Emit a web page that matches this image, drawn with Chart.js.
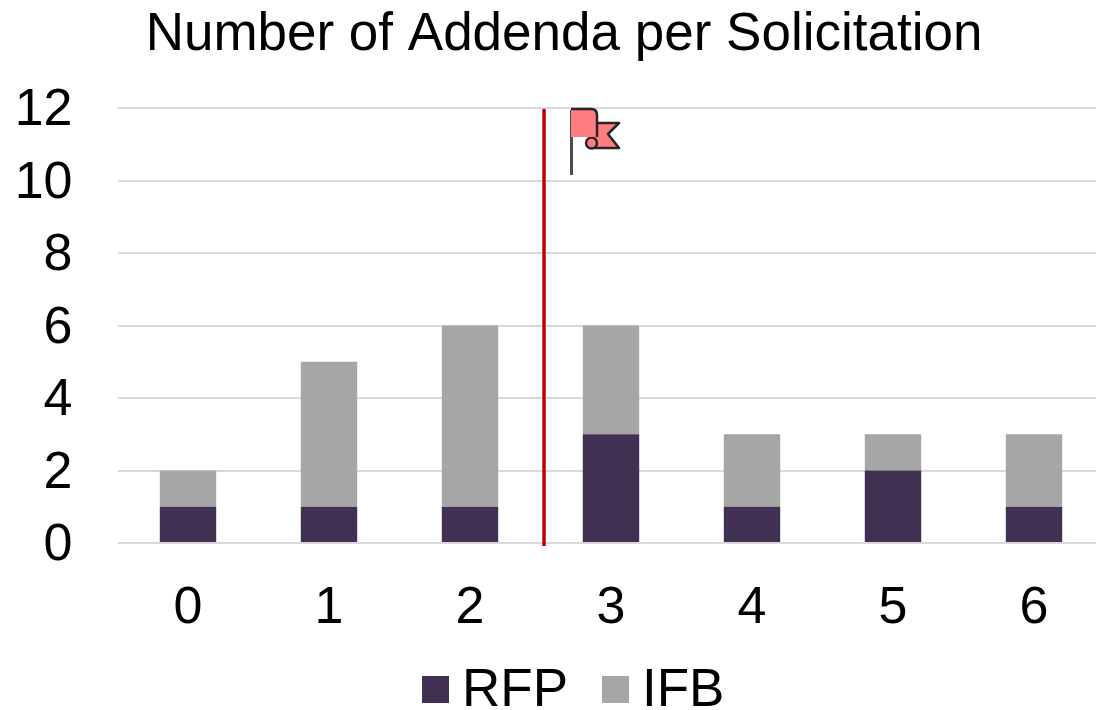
<!DOCTYPE html>
<html><head><meta charset="utf-8">
<style>html,body{margin:0;padding:0;background:#fff;overflow:hidden}#w{position:relative;width:1096px;height:710px;overflow:hidden}canvas{display:block}</style>
<script src="https://cdn.jsdelivr.net/npm/chart.js@4"></script></head>
<body><div id="w"><canvas id="c" width="1128" height="710"></canvas></div>
<script>
const categories=["0","1","2","3","4","5","6"];
const rfp=[1,1,1,3,1,2,1];
const ifb=[1,4,5,3,2,1,2];
const font="'Liberation Sans', Arial, sans-serif";
const dividerAfterIndex=2.525;
const legendSwatchX=[422,602];
const flagPlugin={id:'flag',afterDatasetsDraw(ch){
 const {ctx,scales:{x}}=ch;
 const px=x.getPixelForValue(dividerAfterIndex);
 ctx.save();
 ctx.strokeStyle='#c00000';ctx.lineWidth=3.5;
 ctx.beginPath();ctx.moveTo(px,109);ctx.lineTo(px,546);ctx.stroke();
 ctx.strokeStyle='#4d4d4d';ctx.lineWidth=3;
 ctx.beginPath();ctx.moveTo(571.5,110);ctx.lineTo(571.5,175);ctx.stroke();
 ctx.strokeStyle='#262626';ctx.fillStyle='#ff7c80';ctx.lineWidth=2.5;ctx.lineJoin='round';
 ctx.beginPath();ctx.moveTo(590,123);ctx.lineTo(619,123);ctx.lineTo(608,134);ctx.lineTo(619,148);ctx.lineTo(594,148);ctx.closePath();ctx.fill();ctx.stroke();
 ctx.beginPath();ctx.arc(591.5,143,5.5,0,Math.PI*2);ctx.fill();ctx.stroke();
 ctx.beginPath();ctx.moveTo(571,109);ctx.lineTo(591,109);ctx.quadraticCurveTo(597,109,597,115);ctx.lineTo(597,137);ctx.lineTo(571,137);ctx.closePath();ctx.fill();
 ctx.beginPath();ctx.moveTo(571,109);ctx.lineTo(591,109);ctx.quadraticCurveTo(597,109,597,115);ctx.lineTo(597,137);ctx.stroke();
 ctx.restore();
}};
const legendPlugin={id:'legendRow',afterDraw(ch){
 const ctx=ch.ctx;
 ctx.save();
 ctx.font='53px '+font;ctx.textBaseline='middle';ctx.textAlign='left';
 ch.data.datasets.forEach((d,i)=>{
  ctx.fillStyle=d.backgroundColor;ctx.fillRect(legendSwatchX[i],676,27,27);
  ctx.fillStyle='#000';ctx.fillText(d.label,legendSwatchX[i]+40,691);
 });
 ctx.restore();
}};
new Chart(document.getElementById('c'),{
 type:'bar',
 data:{labels:categories,datasets:[
  {label:'RFP',data:rfp,backgroundColor:'#403152',barPercentage:0.4,categoryPercentage:1},
  {label:'IFB',data:ifb,backgroundColor:'#a6a6a6',barPercentage:0.4,categoryPercentage:1}]},
 plugins:[flagPlugin,legendPlugin],
 options:{responsive:false,animation:false,
  layout:{autoPadding:false,padding:0},
  plugins:{
   title:{display:true,text:'Number of Addenda per Solicitation',color:'#000',font:{family:font,size:53,weight:'normal'},padding:{top:4,bottom:40.4}},
   legend:{display:false},
   tooltip:{enabled:false}},
  scales:{
   x:{stacked:true,afterFit(s){s.height=167},grid:{display:false},border:{display:false},ticks:{color:'#000',font:{family:font,size:52},padding:26}},
   y:{stacked:true,min:0,max:12,afterFit(s){s.width=117.5},
      ticks:{stepSize:2,color:'#000',font:{family:font,size:52},padding:45,labelOffset:3},
      grid:{color:'#d9d9d9',lineWidth:2,drawTicks:false},border:{display:false}},
   spacer:{position:'right',afterFit(s){s.width=23.5},ticks:{display:false},grid:{display:false},border:{display:false}}
  }}
});
</script></body></html>
